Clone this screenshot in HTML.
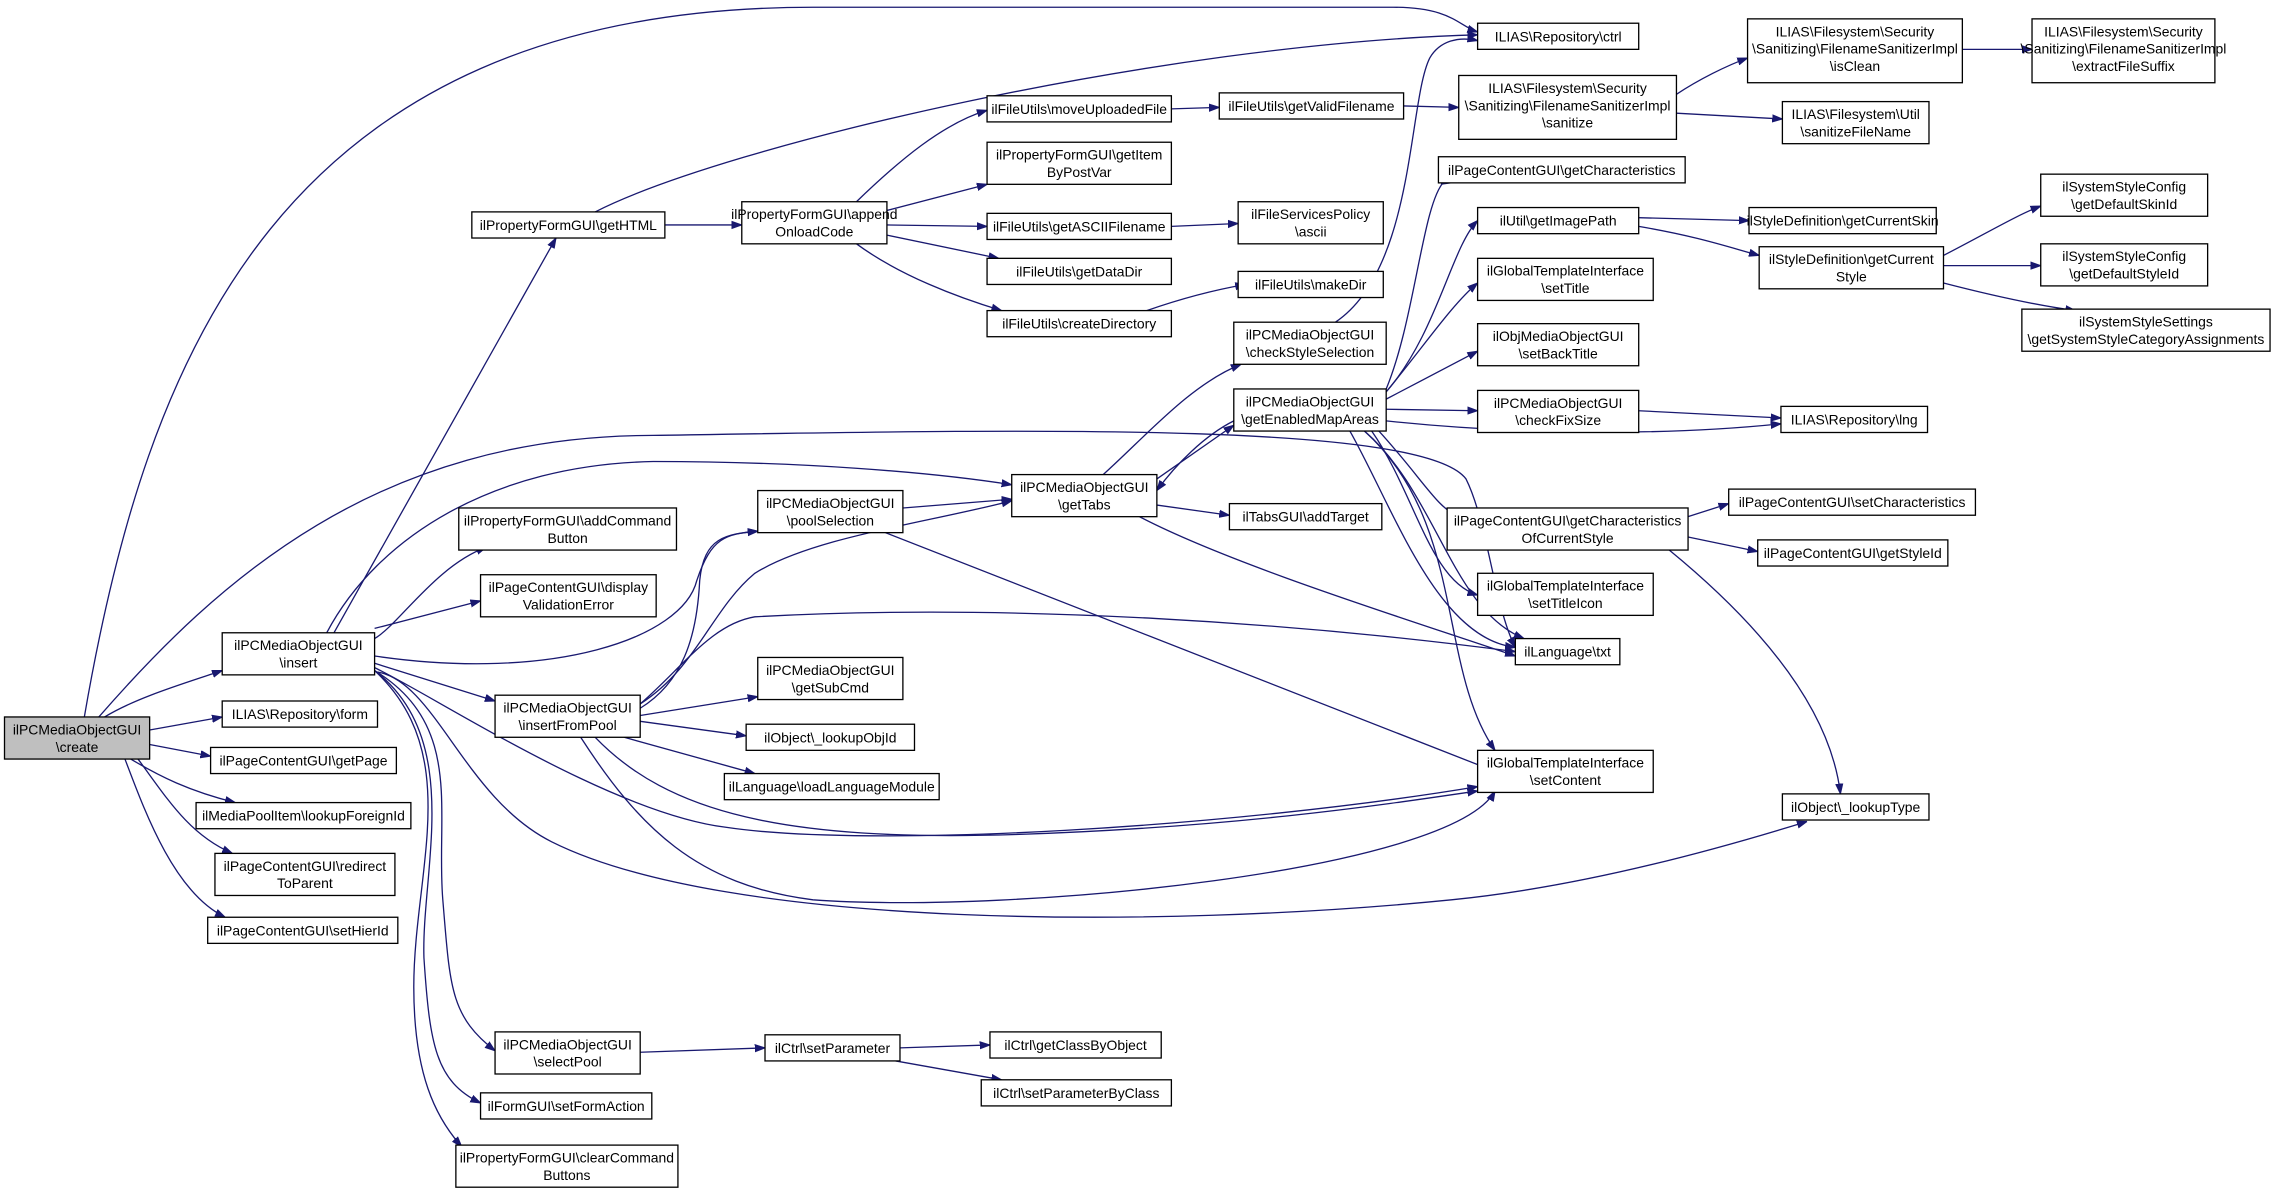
<!DOCTYPE html>
<html><head><meta charset="utf-8"><style>
html,body{margin:0;padding:0;background:#fff;}
svg{display:block;}
text{font-family:"Liberation Sans",Arial,sans-serif;font-size:9.6px;fill:#000;}
.n{fill:#fff;stroke:#000;stroke-width:0.9;}
.e{fill:none;stroke:#191970;stroke-width:0.9;}
</style></head><body>
<svg width="2276" height="1193" viewBox="0 0 1568 822" xmlns="http://www.w3.org/2000/svg">
<defs><marker id="a" viewBox="0 0 10 10" refX="10" refY="5" markerWidth="7" markerHeight="7" orient="auto" markerUnits="userSpaceOnUse"><path d="M0,1.5 L10,5 L0,8.5 z" fill="#191970" stroke="#191970"/></marker></defs>
<g class="edges" marker-end="url(#a)">
<!-- create -->
<path class="e" d="M58,494 C100,250 190,5 560,5 L960,5 C1000,5 1005,18 1018,22"/>
<path class="e" d="M68,494 C150,400 260,300 450,300 C700,296 980,290 1010,330 C1025,360 1030,420 1044,446"/>
<path class="e" d="M72,494 C95,480 130,470 153,462"/>
<path class="e" d="M103,503 L153,494"/>
<path class="e" d="M103,513 L145,521"/>
<path class="e" d="M90,523 C110,535 130,545 162,553"/>
<path class="e" d="M95,523 C115,550 130,575 160,588"/>
<path class="e" d="M86,523 C100,560 120,615 155,632"/>
<!-- insert -->
<path class="e" d="M230,436 L383,164"/>
<path class="e" d="M225,436 C260,370 340,320 450,318 C550,318 640,325 697,334"/>
<path class="e" d="M258,440 C275,430 300,390 335,377"/>
<path class="e" d="M258,433 L331,414"/>
<path class="e" d="M258,457 L341,483"/>
<path class="e" d="M258,452 C380,470 470,440 480,400 C490,370 500,368 522,366"/>
<path class="e" d="M258,460 C300,480 420,560 500,570 C600,585 850,570 1018,542"/>
<path class="e" d="M260,463 C300,470 320,550 380,580 C500,640 800,640 1000,620 C1100,610 1200,580 1245,566"/>
<path class="e" d="M258,462 C320,500 300,560 305,620 C310,680 310,700 341,724"/>
<path class="e" d="M258,462 C320,510 290,600 292,660 C296,720 300,745 331,760"/>
<path class="e" d="M258,462 C320,520 285,600 285,680 C285,740 300,770 318,790"/>
<!-- insertFromPool -->
<path class="e" d="M441,488 C470,470 480,440 482,400 C485,370 500,368 522,366"/>
<path class="e" d="M441,485 C480,460 490,420 520,395 C560,370 640,360 697,345"/>
<path class="e" d="M441,493 L522,480"/>
<path class="e" d="M441,497 L514,507"/>
<path class="e" d="M430,508 L520,533"/>
<path class="e" d="M441,485 C470,460 490,430 520,425 C700,415 900,430 1044,449"/>
<path class="e" d="M410,508 C460,560 540,580 700,575 C850,570 950,555 1018,545"/>
<path class="e" d="M400,508 C440,570 480,610 560,620 C700,630 1000,600 1030,545"/>
<!-- getHTML -->
<path class="e" d="M410,146 C500,100 800,30 1018,24"/>
<path class="e" d="M458,155 L511,155"/>
<!-- appendOnloadCode -->
<path class="e" d="M590,139 C620,110 650,85 680,76"/>
<path class="e" d="M611,145 L680,127"/>
<path class="e" d="M611,155 L680,156"/>
<path class="e" d="M611,162 L688,178"/>
<path class="e" d="M590,168 C620,190 660,205 690,214"/>
<path class="e" d="M807,75 L840,74"/>
<path class="e" d="M967,73 L1005,74"/>
<path class="e" d="M1155,65 C1170,55 1190,45 1204,40"/>
<path class="e" d="M1155,78 L1228,82"/>
<path class="e" d="M1352,34 L1400,34"/>
<path class="e" d="M807,156 L853,154"/>
<path class="e" d="M790,214 C810,207 835,200 858,196"/>
<!-- poolSelection -->
<path class="e" d="M622,350 L697,344"/>
<path class="e" d="M610,367 L1044,537"/>
<!-- getTabs -->
<path class="e" d="M760,327 C790,300 820,265 855,251"/>
<path class="e" d="M797,330 L850,293"/>
<path class="e" d="M797,348 L847,355"/>
<path class="e" d="M785,356 C850,390 980,430 1044,452"/>
<path class="e" d="M850,290 C830,300 810,320 797,338"/>
<path class="e" d="M920,222 C975,185 970,70 985,40 C992,28 1005,25 1018,28"/>
<!-- getEnabledMapAreas -->
<path class="e" d="M955,268 C975,220 980,140 995,125 L1000,126"/>
<path class="e" d="M955,270 C990,230 1000,170 1018,152"/>
<path class="e" d="M955,270 C980,240 1000,210 1018,195"/>
<path class="e" d="M955,275 L1018,242"/>
<path class="e" d="M955,282 L1018,283"/>
<path class="e" d="M955,290 C1050,300 1150,300 1227,292"/>
<path class="e" d="M950,297 C980,330 990,350 1005,356"/>
<path class="e" d="M945,297 C975,340 985,400 1018,410"/>
<path class="e" d="M940,297 C990,340 1000,420 1050,440"/>
<path class="e" d="M930,297 C960,350 990,440 1044,446"/>
<path class="e" d="M940,297 C1010,360 990,460 1030,517"/>
<path class="e" d="M1129,283 L1227,288"/>
<!-- getImagePath -->
<path class="e" d="M1129,150 L1205,152"/>
<path class="e" d="M1129,156 C1170,163 1190,170 1212,176"/>
<path class="e" d="M1339,176 C1370,160 1390,148 1406,142"/>
<path class="e" d="M1339,183 L1406,183"/>
<path class="e" d="M1339,195 C1370,203 1400,210 1430,214"/>
<!-- getCharacteristicsOfCurrentStyle -->
<path class="e" d="M1163,356 L1191,347"/>
<path class="e" d="M1163,370 L1211,380"/>
<path class="e" d="M1150,379 C1200,420 1260,480 1268,547"/>
<!-- selectPool -->
<path class="e" d="M441,725 L527,722"/>
<path class="e" d="M620,722 L682,720"/>
<path class="e" d="M617,731 L690,744"/>
</g>
<g class="nodes">
<rect x="3" y="494" width="100" height="29" fill="#bfbfbf" stroke="#000" stroke-width="0.9"/><text x="53" y="506" text-anchor="middle">ilPCMediaObjectGUI</text><text x="53" y="518" text-anchor="middle">\create</text>
<rect class="n" x="153" y="436" width="105" height="29"/><text x="205.5" y="448" text-anchor="middle">ilPCMediaObjectGUI</text><text x="205.5" y="460" text-anchor="middle">\insert</text>
<rect class="n" x="153" y="483" width="107" height="18"/><text x="206.5" y="495.5" text-anchor="middle">ILIAS\Repository\form</text>
<rect class="n" x="145" y="515" width="128" height="18"/><text x="209" y="527.5" text-anchor="middle">ilPageContentGUI\getPage</text>
<rect class="n" x="135" y="553" width="148" height="18"/><text x="209" y="565.5" text-anchor="middle">ilMediaPoolItem\lookupForeignId</text>
<rect class="n" x="148" y="588" width="124" height="29"/><text x="210" y="600" text-anchor="middle">ilPageContentGUI\redirect</text><text x="210" y="612" text-anchor="middle">ToParent</text>
<rect class="n" x="143" y="632" width="131" height="18"/><text x="208.5" y="644.5" text-anchor="middle">ilPageContentGUI\setHierId</text>
<rect class="n" x="325" y="146" width="133" height="18"/><text x="391.5" y="158.5" text-anchor="middle">ilPropertyFormGUI\getHTML</text>
<rect class="n" x="316" y="350" width="150" height="29"/><text x="391" y="362" text-anchor="middle">ilPropertyFormGUI\addCommand</text><text x="391" y="374" text-anchor="middle">Button</text>
<rect class="n" x="331" y="396" width="121" height="29"/><text x="391.5" y="408" text-anchor="middle">ilPageContentGUI\display</text><text x="391.5" y="420" text-anchor="middle">ValidationError</text>
<rect class="n" x="341" y="479" width="100" height="29"/><text x="391" y="491" text-anchor="middle">ilPCMediaObjectGUI</text><text x="391" y="503" text-anchor="middle">\insertFromPool</text>
<rect class="n" x="341" y="711" width="100" height="29"/><text x="391" y="723" text-anchor="middle">ilPCMediaObjectGUI</text><text x="391" y="735" text-anchor="middle">\selectPool</text>
<rect class="n" x="331" y="753" width="118" height="18"/><text x="390" y="765.5" text-anchor="middle">ilFormGUI\setFormAction</text>
<rect class="n" x="314" y="789" width="153" height="29"/><text x="390.5" y="801" text-anchor="middle">ilPropertyFormGUI\clearCommand</text><text x="390.5" y="813" text-anchor="middle">Buttons</text>
<rect class="n" x="511" y="139" width="100" height="29"/><text x="561" y="151" text-anchor="middle">ilPropertyFormGUI\append</text><text x="561" y="163" text-anchor="middle">OnloadCode</text>
<rect class="n" x="522" y="338" width="100" height="29"/><text x="572" y="350" text-anchor="middle">ilPCMediaObjectGUI</text><text x="572" y="362" text-anchor="middle">\poolSelection</text>
<rect class="n" x="522" y="453" width="100" height="29"/><text x="572" y="465" text-anchor="middle">ilPCMediaObjectGUI</text><text x="572" y="477" text-anchor="middle">\getSubCmd</text>
<rect class="n" x="514" y="499" width="116" height="18"/><text x="572" y="511.5" text-anchor="middle">ilObject\_lookupObjId</text>
<rect class="n" x="499" y="533" width="148" height="18"/><text x="573" y="545.5" text-anchor="middle">ilLanguage\loadLanguageModule</text>
<rect class="n" x="527" y="713" width="93" height="18"/><text x="573.5" y="725.5" text-anchor="middle">ilCtrl\setParameter</text>
<rect class="n" x="680" y="66" width="127" height="18"/><text x="743.5" y="78.5" text-anchor="middle">ilFileUtils\moveUploadedFile</text>
<rect class="n" x="680" y="98" width="127" height="29"/><text x="743.5" y="110" text-anchor="middle">ilPropertyFormGUI\getItem</text><text x="743.5" y="122" text-anchor="middle">ByPostVar</text>
<rect class="n" x="680" y="147" width="127" height="18"/><text x="743.5" y="159.5" text-anchor="middle">ilFileUtils\getASCIIFilename</text>
<rect class="n" x="680" y="178" width="127" height="18"/><text x="743.5" y="190.5" text-anchor="middle">ilFileUtils\getDataDir</text>
<rect class="n" x="680" y="214" width="127" height="18"/><text x="743.5" y="226.5" text-anchor="middle">ilFileUtils\createDirectory</text>
<rect class="n" x="697" y="327" width="100" height="29"/><text x="747" y="339" text-anchor="middle">ilPCMediaObjectGUI</text><text x="747" y="351" text-anchor="middle">\getTabs</text>
<rect class="n" x="847" y="347" width="105" height="18"/><text x="899.5" y="359.5" text-anchor="middle">ilTabsGUI\addTarget</text>
<rect class="n" x="682" y="711" width="118" height="18"/><text x="741" y="723.5" text-anchor="middle">ilCtrl\getClassByObject</text>
<rect class="n" x="676" y="744" width="131" height="18"/><text x="741.5" y="756.5" text-anchor="middle">ilCtrl\setParameterByClass</text>
<rect class="n" x="840" y="64" width="127" height="18"/><text x="903.5" y="76.5" text-anchor="middle">ilFileUtils\getValidFilename</text>
<rect class="n" x="853" y="139" width="100" height="29"/><text x="903" y="151" text-anchor="middle">ilFileServicesPolicy</text><text x="903" y="163" text-anchor="middle">\ascii</text>
<rect class="n" x="853" y="187" width="100" height="18"/><text x="903" y="199.5" text-anchor="middle">ilFileUtils\makeDir</text>
<rect class="n" x="850" y="222" width="105" height="29"/><text x="902.5" y="234" text-anchor="middle">ilPCMediaObjectGUI</text><text x="902.5" y="246" text-anchor="middle">\checkStyleSelection</text>
<rect class="n" x="850" y="268" width="105" height="29"/><text x="902.5" y="280" text-anchor="middle">ilPCMediaObjectGUI</text><text x="902.5" y="292" text-anchor="middle">\getEnabledMapAreas</text>
<rect class="n" x="1018" y="16" width="111" height="18"/><text x="1073.5" y="28.5" text-anchor="middle">ILIAS\Repository\ctrl</text>
<rect class="n" x="1005" y="52" width="150" height="44"/><text x="1080" y="64" text-anchor="middle">ILIAS\Filesystem\Security</text><text x="1080" y="76" text-anchor="middle">\Sanitizing\FilenameSanitizerImpl</text><text x="1080" y="88" text-anchor="middle">\sanitize</text>
<rect class="n" x="991" y="108" width="170" height="18"/><text x="1076" y="120.5" text-anchor="middle">ilPageContentGUI\getCharacteristics</text>
<rect class="n" x="1018" y="143" width="111" height="18"/><text x="1073.5" y="155.5" text-anchor="middle">ilUtil\getImagePath</text>
<rect class="n" x="1018" y="178" width="121" height="29"/><text x="1078.5" y="190" text-anchor="middle">ilGlobalTemplateInterface</text><text x="1078.5" y="202" text-anchor="middle">\setTitle</text>
<rect class="n" x="1018" y="223" width="111" height="29"/><text x="1073.5" y="235" text-anchor="middle">ilObjMediaObjectGUI</text><text x="1073.5" y="247" text-anchor="middle">\setBackTitle</text>
<rect class="n" x="1018" y="269" width="111" height="29"/><text x="1073.5" y="281" text-anchor="middle">ilPCMediaObjectGUI</text><text x="1073.5" y="293" text-anchor="middle">\checkFixSize</text>
<rect class="n" x="997" y="350" width="166" height="29"/><text x="1080" y="362" text-anchor="middle">ilPageContentGUI\getCharacteristics</text><text x="1080" y="374" text-anchor="middle">OfCurrentStyle</text>
<rect class="n" x="1018" y="395" width="121" height="29"/><text x="1078.5" y="407" text-anchor="middle">ilGlobalTemplateInterface</text><text x="1078.5" y="419" text-anchor="middle">\setTitleIcon</text>
<rect class="n" x="1044" y="440" width="72" height="18"/><text x="1080" y="452.5" text-anchor="middle">ilLanguage\txt</text>
<rect class="n" x="1018" y="517" width="121" height="29"/><text x="1078.5" y="529" text-anchor="middle">ilGlobalTemplateInterface</text><text x="1078.5" y="541" text-anchor="middle">\setContent</text>
<rect class="n" x="1204" y="13" width="148" height="44"/><text x="1278" y="25" text-anchor="middle">ILIAS\Filesystem\Security</text><text x="1278" y="37" text-anchor="middle">\Sanitizing\FilenameSanitizerImpl</text><text x="1278" y="49" text-anchor="middle">\isClean</text>
<rect class="n" x="1228" y="70" width="101" height="29"/><text x="1278.5" y="82" text-anchor="middle">ILIAS\Filesystem\Util</text><text x="1278.5" y="94" text-anchor="middle">\sanitizeFileName</text>
<rect class="n" x="1205" y="143" width="129" height="18"/><text x="1269.5" y="155.5" text-anchor="middle">ilStyleDefinition\getCurrentSkin</text>
<rect class="n" x="1212" y="170" width="127" height="29"/><text x="1275.5" y="182" text-anchor="middle">ilStyleDefinition\getCurrent</text><text x="1275.5" y="194" text-anchor="middle">Style</text>
<rect class="n" x="1227" y="280" width="101" height="18"/><text x="1277.5" y="292.5" text-anchor="middle">ILIAS\Repository\lng</text>
<rect class="n" x="1191" y="337" width="170" height="18"/><text x="1276" y="349.5" text-anchor="middle">ilPageContentGUI\setCharacteristics</text>
<rect class="n" x="1211" y="372" width="131" height="18"/><text x="1276.5" y="384.5" text-anchor="middle">ilPageContentGUI\getStyleId</text>
<rect class="n" x="1228" y="547" width="101" height="18"/><text x="1278.5" y="559.5" text-anchor="middle">ilObject\_lookupType</text>
<rect class="n" x="1400" y="13" width="126" height="44"/><text x="1463" y="25" text-anchor="middle">ILIAS\Filesystem\Security</text><text x="1463" y="37" text-anchor="middle">\Sanitizing\FilenameSanitizerImpl</text><text x="1463" y="49" text-anchor="middle">\extractFileSuffix</text>
<rect class="n" x="1406" y="120" width="115" height="29"/><text x="1463.5" y="132" text-anchor="middle">ilSystemStyleConfig</text><text x="1463.5" y="144" text-anchor="middle">\getDefaultSkinId</text>
<rect class="n" x="1406" y="168" width="115" height="29"/><text x="1463.5" y="180" text-anchor="middle">ilSystemStyleConfig</text><text x="1463.5" y="192" text-anchor="middle">\getDefaultStyleId</text>
<rect class="n" x="1393" y="213" width="171" height="29"/><text x="1478.5" y="225" text-anchor="middle">ilSystemStyleSettings</text><text x="1478.5" y="237" text-anchor="middle">\getSystemStyleCategoryAssignments</text>
</g>
</svg>
</body></html>
